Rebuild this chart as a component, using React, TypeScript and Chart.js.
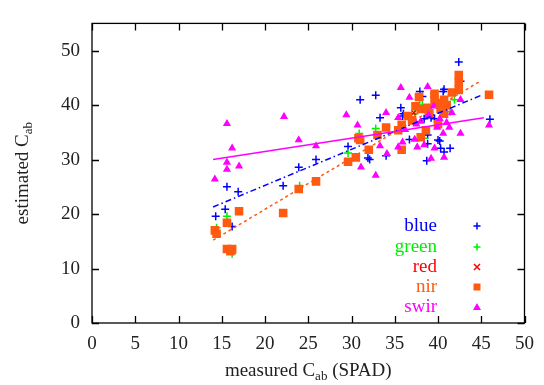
import React, { useEffect, useRef } from "react";
import { Chart, registerables } from "chart.js";

Chart.register(...registerables);

const xTicks = [0, 5, 10, 15, 20, 25, 30, 35, 40, 45, 50];
const yTicks = [0, 10, 20, 30, 40, 50];
const seriesNames = ["blue", "green", "red", "nir", "swir"];

const blueX = [14.3, 15.4, 15.6, 16.9, 16.2, 22.1, 23.9, 25.9, 29.6, 31.9, 31.0, 32.8, 33.3, 35.7, 36.0, 36.7, 38.8, 40.2, 40.3, 40.7, 38.7, 41.4, 37.9, 42.6, 46.0, 38.4, 39.2, 40.6, 42.4, 40.7, 38.2, 35.9, 39.6, 34.0, 32.1, 40.0, 38.8];
const blueY = [19.6, 20.9, 25.0, 24.1, 17.7, 25.2, 28.6, 30.0, 32.4, 30.3, 41.0, 41.8, 37.7, 39.5, 38.4, 33.7, 32.9, 33.4, 32.1, 31.4, 29.8, 32.1, 42.5, 44.4, 37.4, 37.5, 37.7, 42.5, 47.9, 42.9, 41.6, 38.0, 37.5, 30.7, 30.0, 33.6, 34.5];

const greenX = [16.2, 15.6, 14.4, 24.0, 29.6, 30.9, 32.8, 37.3, 37.9, 40.3, 41.4, 38.4, 41.9, 38.2];
const greenY = [12.7, 19.6, 17.5, 25.2, 31.2, 34.8, 35.7, 38.4, 41.0, 39.3, 38.8, 33.9, 41.0, 40.0];

const redX = [14.2, 15.6, 16.2, 17.0, 22.1, 24.0, 25.9, 30.5, 33.0, 35.8, 38.0, 39.9, 40.7, 42.4, 45.9, 37.2, 39.4];
const redY = [17.0, 18.4, 13.6, 20.5, 20.2, 24.6, 26.0, 30.4, 34.5, 36.4, 39.3, 40.4, 41.0, 42.8, 41.9, 38.6, 41.8];

const nirX = [14.2, 14.4, 15.6, 15.6, 16.2, 16.0, 17.0, 22.1, 23.9, 25.9, 29.6, 30.5, 30.8, 31.0, 32.0, 33.0, 34.0, 35.4, 35.8, 35.8, 38.0, 38.6, 37.4, 38.0, 39.6, 39.9, 40.7, 40.3, 41.6, 42.4, 42.4, 42.4, 45.9, 40.7, 38.8, 39.6, 36.5, 37.0, 39.0, 41.0, 40.0, 37.8];
const nirY = [17.0, 16.4, 18.4, 13.6, 13.6, 13.2, 20.5, 20.2, 24.6, 26.0, 29.6, 30.4, 33.9, 33.6, 31.8, 34.5, 35.9, 35.4, 36.4, 31.8, 34.1, 35.4, 39.8, 39.3, 42.1, 40.4, 41.0, 39.3, 42.3, 42.8, 45.5, 44.2, 41.9, 38.4, 39.5, 41.0, 38.0, 37.2, 38.5, 40.0, 36.5, 41.5];

const swirX = [14.2, 15.6, 16.2, 15.6, 15.6, 17.0, 22.2, 23.9, 25.9, 29.4, 30.7, 31.1, 32.8, 33.3, 34.1, 34.0, 35.7, 35.4, 35.4, 35.9, 37.3, 37.6, 38.4, 39.2, 40.7, 39.6, 40.6, 41.3, 42.6, 39.9, 36.7, 38.8, 41.6, 42.6, 45.9, 38.9, 37.5, 36.2, 39.5, 40.2, 38.0, 41.0];
const swirY = [26.4, 36.6, 32.1, 29.5, 28.2, 28.8, 37.9, 33.6, 32.5, 38.2, 36.3, 28.6, 27.1, 32.5, 31.1, 38.6, 43.2, 37.7, 32.3, 33.2, 33.7, 32.3, 32.7, 30.2, 30.4, 32.1, 34.8, 35.9, 34.8, 35.9, 41.4, 43.4, 38.6, 41.0, 36.3, 38.2, 36.5, 35.5, 39.8, 37.5, 37.0, 36.8];

const blueFitX = [14, 45];
const blueFitY = [21.3, 41.8];
const nirFitX = [14, 45];
const nirFitY = [15.2, 44.5];
const swirFitX = [14, 45.3];
const swirFitY = [30.0, 37.7];

const COLORS = {
  blue: "#0000ff",
  green: "#00ee00",
  red: "#ff0000",
  nir: "#ff5a10",
  swir: "#ff00ff",
};

const FONT = "'Liberation Serif', 'DejaVu Serif', serif";

const pts = (xs: number[], ys: number[]) => xs.map((x, i) => ({ x, y: ys[i] }));

function drawMarker(ctx: CanvasRenderingContext2D, style: string, x: number, y: number, color: string) {
  ctx.save();
  ctx.strokeStyle = color;
  ctx.fillStyle = color;
  ctx.lineWidth = 1.5;
  ctx.beginPath();
  if (style === "cross") {
    ctx.moveTo(x - 3.5, y);
    ctx.lineTo(x + 3.5, y);
    ctx.moveTo(x, y - 3.5);
    ctx.lineTo(x, y + 3.5);
    ctx.stroke();
  } else if (style === "crossRot") {
    ctx.moveTo(x - 3, y - 3);
    ctx.lineTo(x + 3, y + 3);
    ctx.moveTo(x + 3, y - 3);
    ctx.lineTo(x - 3, y + 3);
    ctx.stroke();
  } else if (style === "rect") {
    ctx.fillRect(x - 3.5, y - 3.5, 7, 7);
  } else {
    ctx.moveTo(x, y - 4);
    ctx.lineTo(x + 4, y + 3);
    ctx.lineTo(x - 4, y + 3);
    ctx.closePath();
    ctx.fill();
  }
  ctx.restore();
}

const framePlugin = {
  id: "frame",
  afterDraw(chart: any) {
    const { ctx, chartArea: a, scales } = chart;
    ctx.save();
    ctx.strokeStyle = "#000";
    ctx.lineWidth = 1.3;
    ctx.strokeRect(a.left, a.top, a.right - a.left, a.bottom - a.top);
    const tl = 7;
    ctx.beginPath();
    xTicks.forEach((v) => {
      const px = Math.round(scales.x.getPixelForValue(v)) + 0.5;
      ctx.moveTo(px, a.bottom);
      ctx.lineTo(px, a.bottom - tl);
      ctx.moveTo(px, a.top);
      ctx.lineTo(px, a.top + tl);
    });
    yTicks.forEach((v) => {
      const py = Math.round(scales.y.getPixelForValue(v)) + 0.5;
      ctx.moveTo(a.left, py);
      ctx.lineTo(a.left + tl, py);
      ctx.moveTo(a.right, py);
      ctx.lineTo(a.right - tl, py);
    });
    ctx.stroke();

    // axis titles with subscripts
    ctx.fillStyle = "#222";
    ctx.textBaseline = "alphabetic";
    const big = `19px ${FONT}`;
    const small = `13px ${FONT}`;
    // x title
    const xParts = ["measured C", "ab", " (SPAD)"];
    ctx.font = big;
    const w1 = ctx.measureText(xParts[0]).width;
    const w3 = ctx.measureText(xParts[2]).width;
    ctx.font = small;
    const w2 = ctx.measureText(xParts[1]).width;
    const total = w1 + w2 + w3;
    let sx = (a.left + a.right) / 2 - total / 2;
    const by = 376;
    ctx.textAlign = "left";
    ctx.font = big;
    ctx.fillText(xParts[0], sx, by);
    ctx.font = small;
    ctx.fillText(xParts[1], sx + w1, by + 4);
    ctx.font = big;
    ctx.fillText(xParts[2], sx + w1 + w2, by);

    // y title
    ctx.save();
    ctx.translate(28, (a.top + a.bottom) / 2);
    ctx.rotate(-Math.PI / 2);
    ctx.font = big;
    const yw1 = ctx.measureText("estimated C").width;
    ctx.font = small;
    const yw2 = ctx.measureText("ab").width;
    const ys = -(yw1 + yw2) / 2;
    ctx.font = big;
    ctx.fillText("estimated C", ys, 0);
    ctx.font = small;
    ctx.fillText("ab", ys + yw1, 4);
    ctx.restore();

    // legend
    const styles = ["cross", "cross", "crossRot", "rect", "triangle"];
    const legendY = [226, 247, 267, 287, 307];
    ctx.font = big;
    ctx.textAlign = "right";
    ctx.textBaseline = "middle";
    seriesNames.forEach((name, i) => {
      const c = (COLORS as any)[name];
      ctx.fillStyle = c;
      ctx.fillText(name, 437, legendY[i]);
      drawMarker(ctx, styles[i], 477, legendY[i], c);
    });
    ctx.restore();
  },
};

export default function App() {
  const ref = useRef<HTMLCanvasElement | null>(null);
  useEffect(() => {
    document.body.style.margin = "0";
    if (!ref.current) return;
    const pointSet = (label: string, xs: number[], ys: number[], style: string, radius: number, order: number) => ({
      label,
      data: pts(xs, ys),
      pointStyle: style,
      pointRadius: radius,
      pointHoverRadius: radius,
      pointBorderWidth: 1.5,
      borderColor: (COLORS as any)[label],
      backgroundColor: (COLORS as any)[label],
      showLine: false,
      order,
    });
    const fitSet = (label: string, xs: number[], ys: number[], dash: number[]) => ({
      label: label + " fit",
      data: pts(xs, ys),
      showLine: true,
      pointRadius: 0,
      borderColor: (COLORS as any)[label],
      borderWidth: 1.5,
      borderDash: dash,
      fill: false,
      order: 0,
    });
    const chart = new Chart(ref.current, {
      type: "scatter",
      data: {
        datasets: [
          fitSet("swir", swirFitX, swirFitY, []),
          fitSet("nir", nirFitX, nirFitY, [3, 3]),
          fitSet("blue", blueFitX, blueFitY, [6, 3, 1.5, 3]),
          pointSet("swir", swirX, swirY, "triangle", 3.2, 1),
          pointSet("nir", nirX, nirY, "rect", 5, 2),
          pointSet("red", redX, redY, "crossRot", 3.5, 3),
          pointSet("green", greenX, greenY, "cross", 4, 4),
          pointSet("blue", blueX, blueY, "cross", 4, 5),
        ] as any,
      },
      options: {
        responsive: false,
        animation: false,
        layout: { padding: { top: 15, right: 16, left: 0, bottom: 0 } },
        plugins: { legend: { display: false }, tooltip: { enabled: false } },
        scales: {
          x: {
            type: "linear",
            min: 0,
            max: 50,
            grid: { display: false, drawTicks: false },
            border: { display: false },
            afterBuildTicks: (s: any) => {
              s.ticks = xTicks.map((v) => ({ value: v }));
            },
            afterFit: (s: any) => {
              s.height = 62;
            },
            ticks: {
              padding: 10,
              color: "#222",
              font: { family: FONT, size: 19 },
              maxRotation: 0,
            },
          },
          y: {
            type: "linear",
            min: 0,
            max: 55,
            grid: { display: false, drawTicks: false },
            border: { display: false },
            afterBuildTicks: (s: any) => {
              s.ticks = yTicks.map((v) => ({ value: v }));
            },
            afterFit: (s: any) => {
              s.width = 92;
            },
            ticks: {
              padding: 12,
              color: "#222",
              font: { family: FONT, size: 19 },
            },
          },
        },
      },
      plugins: [framePlugin],
    });
    return () => chart.destroy();
  }, []);
  return <canvas ref={ref} width={544} height={385} style={{ display: "block" }} />;
}
